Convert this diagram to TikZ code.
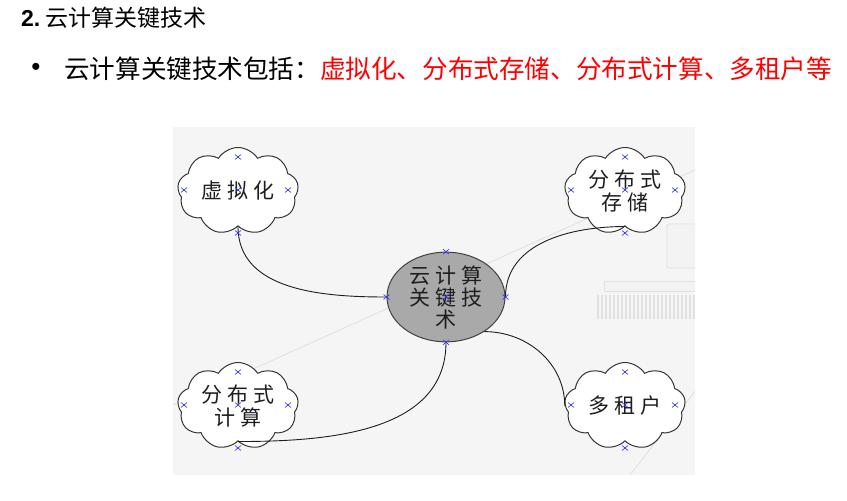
\documentclass[tikz,border=0pt]{standalone}
\usepackage{fontspec}
\setmainfont{Liberation Sans}
\newfontfamily\cjk{Noto Sans CJK SC}
\newfontfamily\cjkwide[LetterSpace=22]{Noto Sans CJK SC}
\usepackage{tikz}
\usetikzlibrary{shapes.symbols,shapes.geometric}
\definecolor{mmback}{HTML}{F5F5F5}
\definecolor{mmink}{HTML}{1E1E1E}
\definecolor{mmcore}{HTML}{A9A9A9}
\definecolor{mmmark}{HTML}{3030F0}
\definecolor{mmfaint}{HTML}{E0E0E0}
\definecolor{mmred}{HTML}{FF0000}
\tikzset{
  idea/.style={cloud,cloud puffs=9,cloud puff arc=115,cloud ignores aspect,
               draw=mmink!90,line width=1pt,fill=white,minimum width=121pt,minimum height=87pt,
               inner sep=0pt,align=center,text=mmink,font=\cjkwide\fontsize{21}{23}\selectfont},
  core/.style={ellipse,draw=mmink!85,line width=1pt,fill=mmcore,minimum width=118pt,minimum height=86pt,
               inner sep=0pt,align=center,text=mmink,font=\cjkwide\fontsize{21}{22}\selectfont},
  link/.style={line width=0.9pt,draw=mmink},
  xmk/.style={draw=mmmark,line width=0.6pt},
  faint/.style={draw=mmfaint,line width=0.8pt},
}

\begin{document}
\begin{tikzpicture}[x=1pt,y=-1pt]
  \useasboundingbox (0,0) rectangle (847,501);

  % heading and bullet line
  \node[anchor=west,inner sep=0pt,font=\fontsize{23}{24}\selectfont] (title) at (21,18)
    {\bfseries 2.\hspace{5pt}\mdseries\cjk\fontsize{23}{24}\selectfont 云计算关键技术};
  \node[inner sep=0pt,font=\fontsize{26}{28}\selectfont] (dot) at (36,69) {•};
  \node[anchor=west,inner sep=0pt,font=\cjk\fontsize{25.6}{28}\selectfont] (lead) at (64,69)
    {云计算关键技术包括：\textcolor{mmred}{虚拟化、分布式存储、分布式计算、多租户等}};

  % canvas with faint leftovers
  \fill[mmback] (173,127) rectangle (695,475);
  \begin{scope}
    \clip (173,127) rectangle (695,475);
    \draw[faint] (173,405) -- (695,170);
    \draw[faint] (630,475) -- (700,385);
    \draw[faint,fill=mmfaint!40,rounded corners=1.5pt] (667,224) rectangle (700,268);
    \draw[faint,fill=mmfaint!40] (604,281) rectangle (700,291);
    \foreach \i in {0,...,25}
      \draw[faint,line width=1.2pt] (598+4*\i,295) -- (598+4*\i,319);
  \end{scope}

  % mind map
  \node[core] (core) at (446,297) {云计算\\关键技\\术};
  \node[idea] (virt) at (238,191) {虚拟化};
  \node[idea] (stor) at (625,191) {分布式\\存储};
  \node[idea] (comp) at (238,406) {分布式\\计算};
  \node[idea] (tena) at (625,406) {多租户};

  \draw[link] (virt.south) to[out=-90,in=180] (core.west);
  \draw[link] (core.east) to[out=90,in=180] (stor.south);
  \draw[link] (core.south) to[out=-90,in=0] (comp.south);
  \draw[link] (core.-42) to[out=0,in=90] (tena.west);

  % handle marks
  \foreach \nd in {virt,stor,comp,tena}
    \foreach \dx/\dy in {0/-34,0/42,-54/-1,50/-1,0/-1}
      \draw[xmk] ([shift={(\dx,\dy)}]\nd.center) +(-3,-2.5) -- +(3,2.5) +(-3,2.5) -- +(3,-2.5);
  \foreach \an in {north,south,east,west,center}
    \draw[xmk] (core.\an) +(-3,-2.5) -- +(3,2.5) +(-3,2.5) -- +(3,-2.5);
\end{tikzpicture}
\end{document}
